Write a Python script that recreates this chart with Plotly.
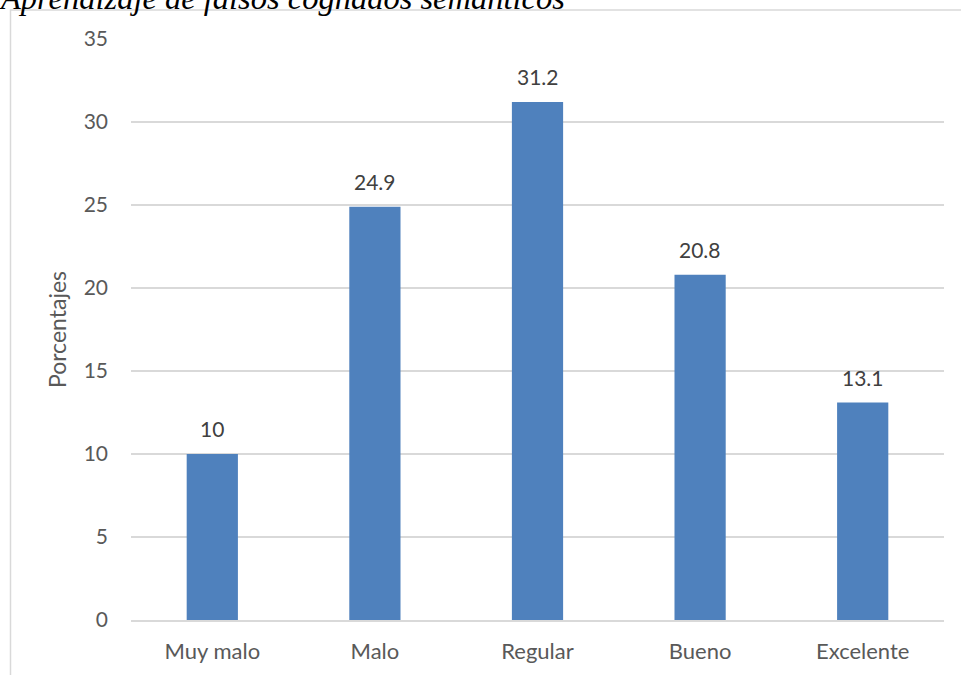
import plotly.graph_objects as go

categories = ["Muy malo", "Malo", "Regular", "Bueno", "Excelente"]
values = [10, 24.9, 31.2, 20.8, 13.1]
value_labels = ["10", "24.9", "31.2", "20.8", "13.1"]
y_ticks = [0, 5, 10, 15, 20, 25, 30, 35]

W, H = 961, 675
L, R, T, B = 131, 17, 39, 55
pw, ph = W - L - R, H - T - B

def px_to_xpaper(p):
    return (p - L) / pw

def px_to_ypaper(p):
    return (H - B - p) / ph

font_fam = "Lato, Carlito, Calibri, sans-serif"
grey = "#595959"

fig = go.Figure(go.Bar(
    x=categories, y=values, marker=dict(color="#4f81bd", line=dict(width=0)),
    hoverinfo="x+y",
))

for c, v, t in zip(categories, values, value_labels):
    fig.add_annotation(x=c, y=v, text=t, showarrow=False, yanchor="bottom",
                       yshift=11, font=dict(family=font_fam, size=21, color="#404040"))

fig.add_annotation(xref="paper", yref="paper", x=px_to_xpaper(-3), y=px_to_ypaper(18),
                   xanchor="left", yanchor="bottom", showarrow=False,
                   text="<i>Aprendizaje de falsos cognados semánticos</i>",
                   font=dict(family="Liberation Serif, Times New Roman, serif", size=32.5, color="black"))

fig.add_shape(type="rect", xref="paper", yref="paper",
              x0=px_to_xpaper(10.5), x1=px_to_xpaper(975), y0=px_to_ypaper(700), y1=px_to_ypaper(10),
              line=dict(color="#d9d9d9", width=1.5), fillcolor="rgba(0,0,0,0)", layer="below")

fig.update_layout(
    width=W, height=H, margin=dict(l=L, r=R, t=T, b=B),
    plot_bgcolor="white", paper_bgcolor="white",
    bargap=0.685, showlegend=False,
    font=dict(family=font_fam, size=21, color=grey),
    xaxis=dict(showgrid=False, showline=True, linecolor="#d9d9d9", linewidth=1.5,
               ticks="", tickfont=dict(size=22, color=grey), ticklabelstandoff=11),
    yaxis=dict(range=[0, 35], tickvals=y_ticks, showgrid=True, gridcolor="#d9d9d9",
               gridwidth=1.5, zeroline=False, showline=False, ticks="",
               tickfont=dict(size=21, color=grey), ticklabelstandoff=22,
               title=dict(text="Porcentajes", font=dict(size=23, color=grey), standoff=10)),
)

fig.write_html("out.html", config={"displayModeBar": False},
               post_script="document.body.style.margin='0';document.body.style.padding='0';")
